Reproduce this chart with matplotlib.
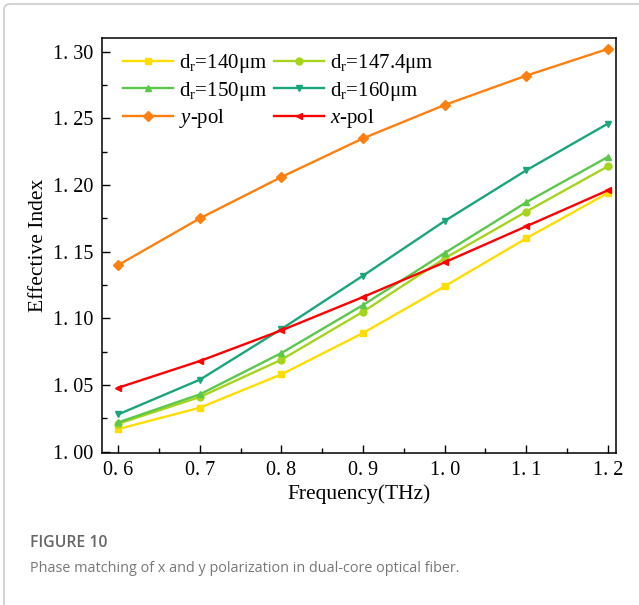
import matplotlib
matplotlib.use("Agg")
import matplotlib.pyplot as plt
from matplotlib.patches import FancyBboxPatch
from matplotlib.ticker import MultipleLocator, FixedLocator

plt.rcParams['font.family'] = ['Liberation Serif', 'DejaVu Serif']
plt.rcParams['mathtext.fontset'] = 'custom'
plt.rcParams['mathtext.rm'] = 'Liberation Serif'
plt.rcParams['mathtext.it'] = 'Liberation Serif:italic'

freq = [0.6, 0.7, 0.8, 0.9, 1.0, 1.1, 1.2]

# effective index per core diameter and polarization
n_140 = [1.017, 1.033, 1.058, 1.089, 1.124, 1.160, 1.194]
n_147 = [1.021, 1.041, 1.069, 1.105, 1.145, 1.180, 1.214]
n_150 = [1.022, 1.043, 1.074, 1.110, 1.149, 1.187, 1.221]
n_160 = [1.028, 1.054, 1.092, 1.132, 1.173, 1.211, 1.246]
n_ypol = [1.140, 1.175, 1.206, 1.235, 1.260, 1.282, 1.302]
n_xpol = [1.048, 1.068, 1.091, 1.116, 1.142, 1.169, 1.196]

labels = [r'd$_\mathrm{r}$=140μm', r'd$_\mathrm{r}$=147.4μm',
          r'd$_\mathrm{r}$=150μm', r'd$_\mathrm{r}$=160μm',
          r'$\mathit{y}$-pol', r'$\mathit{x}$-pol']

yticks = [1.00, 1.05, 1.10, 1.15, 1.20, 1.25, 1.30]
ytick_labels = ['1. 00', '1. 05', '1. 10', '1. 15', '1. 20', '1. 25', '1. 30']
xtick_labels = ['0. 6', '0. 7', '0. 8', '0. 9', '1. 0', '1. 1', '1. 2']

fig = plt.figure(figsize=(6.39, 6.05), dpi=100)
ax = fig.add_axes([0.1596, 0.2512, 0.8044, 0.6855])

series = [
    (n_140, '#FFDD00', 's'),
    (n_147, '#A6D41E', 'o'),
    (n_150, '#5AC84A', '^'),
    (n_160, '#1AA67A', 'v'),
    (n_ypol, '#FF7F0F', 'D'),
    (n_xpol, '#FF0000', '<'),
]
handles = []
for (vals, color, marker), label in zip(series, labels):
    h, = ax.plot(freq, vals, color=color, marker=marker, markersize=5,
                 linewidth=1.7, label=label)
    handles.append(h)

ax.set_xlim(0.58, 1.21)
ax.set_ylim(0.999, 1.31)
ax.xaxis.set_major_locator(FixedLocator(freq))
ax.set_xticklabels(xtick_labels)
ax.xaxis.set_minor_locator(MultipleLocator(0.05))
ax.yaxis.set_major_locator(FixedLocator(yticks))
ax.set_yticklabels(ytick_labels)
ax.yaxis.set_minor_locator(MultipleLocator(0.025))
ax.tick_params(which='both', direction='in', labelsize=14.5, width=1.0)
ax.tick_params(which='major', length=6, pad=6)
ax.tick_params(which='minor', length=3.5)
for sp in ax.spines.values():
    sp.set_linewidth(1.1)

ax.set_xlabel('Frequency(THz)', fontsize=15.5, labelpad=3)
ax.set_ylabel('Effective Index', fontsize=15.5, labelpad=4)

# legend fills row by row: two columns, three rows
order = [0, 2, 4, 1, 3, 5]
ax.legend([handles[i] for i in order], [labels[i] for i in order],
          ncol=2, frameon=False, fontsize=15, loc='upper left',
          bbox_to_anchor=(0.017, 0.997), handlelength=2.4, handletextpad=0.3,
          columnspacing=0.3, labelspacing=0.22, borderaxespad=0.2)

# caption panel
fig.patches.append(FancyBboxPatch((4 / 639, -0.2), 1.2, 1.2 - 4 / 605,
                                  boxstyle='round,pad=0,rounding_size=0.01',
                                  transform=fig.transFigure, fill=False,
                                  edgecolor='#d4d4d4', linewidth=1.5))
fig.text(30 / 639, 1 - 543 / 605, 'FIGURE 10', family='Open Sans',
         fontsize=11.3, fontweight='semibold', color='#666666', va='center')
fig.text(30 / 639, 1 - 568 / 605,
         'Phase matching of x and y polarization in dual-core optical fiber.',
         family='Open Sans', fontsize=10.4, color='#777777', va='center')

fig.savefig('out.png', dpi=100)
